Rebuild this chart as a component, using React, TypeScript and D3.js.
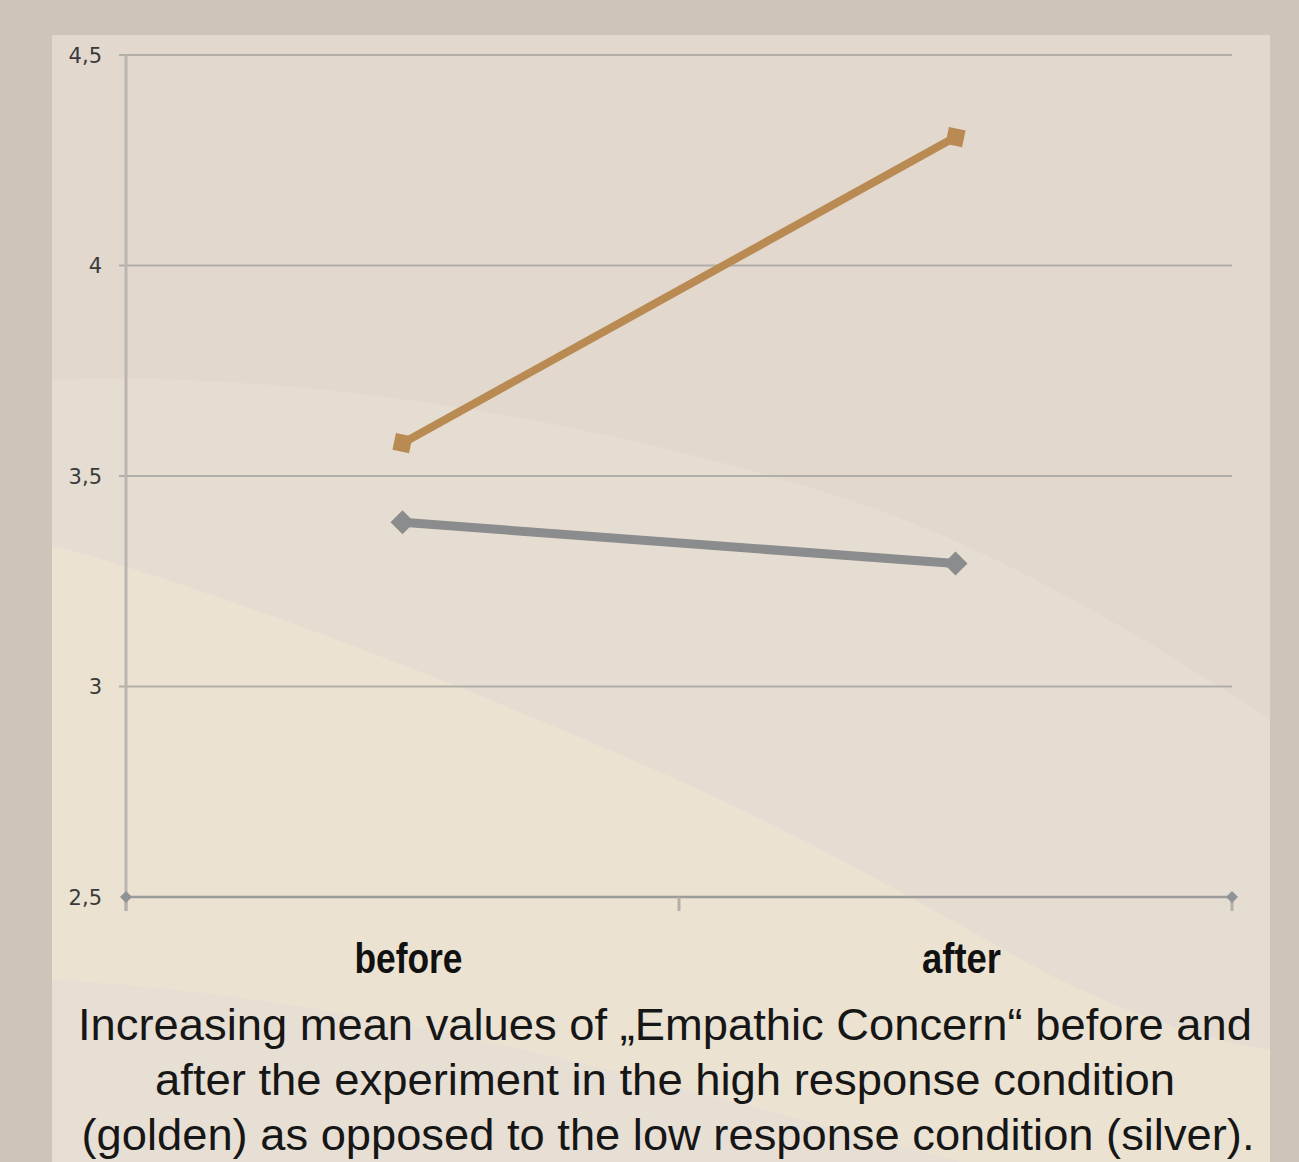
import React from "react";
import * as d3 from "d3";

const categories = ["before", "after"];
const goldenValues = [3.578, 4.305];
const silverValues = [3.39, 3.292];
const yTicks = [2.5, 3, 3.5, 4, 4.5];
const yTickLabels = ["2,5", "3", "3,5", "4", "4,5"];
const captionLines = [
  "Increasing mean values of \u201EEmpathic Concern\u201C before and",
  "after the experiment in the high response condition",
  "(golden) as opposed to the low response condition (silver).",
];
const captionWidths = [1174, 1020, 1173];
const categoryLabelWidths = [108, 79];

const W = 1299;
const H = 1162;

export default function App() {
  const y = d3.scaleLinear().domain([2.5, 4.5]).range([897, 55]);
  const x = d3.scaleBand().domain(categories).range([126, 1232]).padding(0);
  const cx = (c: string) => (x(c) as number) + x.bandwidth() / 2;
  const line = d3
    .line<number>()
    .x((_, i) => cx(categories[i]))
    .y((d) => y(d));
  const xTickPos = [126, ...categories.slice(1).map((c) => x(c) as number), 1232];
  const diamond = (px: number, py: number, r: number) =>
    `M${px},${py - r}L${px + r},${py}L${px},${py + r}L${px - r},${py}Z`;

  return (
    <svg
      width={W}
      height={H}
      style={{ position: "absolute", left: 0, top: 0 }}
      xmlns="http://www.w3.org/2000/svg"
    >
      <rect x={0} y={0} width={W} height={H} fill="#cec4ba" />
      {/* panel background */}
      <rect x={52} y={35} width={1218} height={H - 35} fill="#e2d8ce" />
      <path
        d="M52,380 C300,370 600,420 850,500 C1000,550 1150,640 1270,720 L1270,1162 L52,1162 Z"
        fill="#e6ddd2"
      />
      <path
        d="M52,545 C250,600 500,700 700,790 C850,860 950,920 1050,975 C1120,1010 1200,1040 1270,1050 L1270,1162 L52,1162 Z"
        fill="#ebe2d2"
      />
      <path
        d="M52,980 C250,990 450,1030 650,1080 C800,1120 900,1145 960,1162 L52,1162 Z"
        fill="#e7ded4"
      />
      <path
        d="M1150,1162 C1190,1120 1230,1095 1270,1085 L1270,1162 Z"
        fill="#ebe2d2"
      />

      {/* grid lines */}
      {yTicks.slice(1).map((t) => (
        <line
          key={t}
          x1={119}
          x2={1232}
          y1={y(t)}
          y2={y(t)}
          stroke="#b1ada7"
          strokeWidth={2}
        />
      ))}
      {/* y axis */}
      <line x1={126} x2={126} y1={y(4.5)} y2={911} stroke="#bab5af" strokeWidth={3} />
      {/* x axis */}
      <line x1={126} x2={1232} y1={y(2.5)} y2={y(2.5)} stroke="#9c9c9b" strokeWidth={2.5} />
      {xTickPos.map((p, i) => (
        <line key={i} x1={p} x2={p} y1={y(2.5)} y2={911} stroke="#b3b0ab" strokeWidth={3} />
      ))}
      <path d={diamond(126, y(2.5), 6)} fill="#909395" />
      <path d={diamond(1232, y(2.5), 6)} fill="#909395" />

      {/* y tick labels */}
      {yTicks.map((t, i) => (
        <text
          key={t}
          x={102}
          y={y(t)}
          dy="0.36em"
          textAnchor="end"
          fontFamily="DejaVu Sans, sans-serif"
          fontSize={21}
          fill="#3a3a3a"
        >
          {yTickLabels[i]}
        </text>
      ))}

      {/* series */}
      <path d={line(silverValues) || ""} fill="none" stroke="#8b8c8d" strokeWidth={9} />
      {silverValues.map((v, i) => (
        <path key={i} d={diamond(cx(categories[i]), y(v), 12)} fill="#8b8c8d" />
      ))}
      <path d={line(goldenValues) || ""} fill="none" stroke="#b98b53" strokeWidth={8} />
      {goldenValues.map((v, i) => (
        <rect
          key={i}
          x={cx(categories[i]) - 8.5}
          y={y(v) - 8.5}
          width={17}
          height={17}
          fill="#b98b53"
          transform={`rotate(12 ${cx(categories[i])} ${y(v)})`}
        />
      ))}

      {/* category labels */}
      {categories.map((c, i) => (
        <text
          key={c}
          x={cx(c) + 6}
          y={973}
          textAnchor="middle"
          fontFamily="Liberation Sans Narrow, Arial Narrow, sans-serif"
          fontWeight="bold"
          fontSize={43}
          fill="#111111"
          textLength={categoryLabelWidths[i]}
          lengthAdjust="spacingAndGlyphs"
        >
          {c}
        </text>
      ))}

      {/* caption */}
      {captionLines.map((l, i) => (
        <text
          key={i}
          x={i === 2 ? 668 : 665}
          y={1040 + i * 55}
          textAnchor="middle"
          fontFamily="Liberation Sans, Arial, sans-serif"
          fontSize={45}
          fill="#161616"
          textLength={captionWidths[i]}
          lengthAdjust="spacingAndGlyphs"
        >
          {l}
        </text>
      ))}
    </svg>
  );
}
